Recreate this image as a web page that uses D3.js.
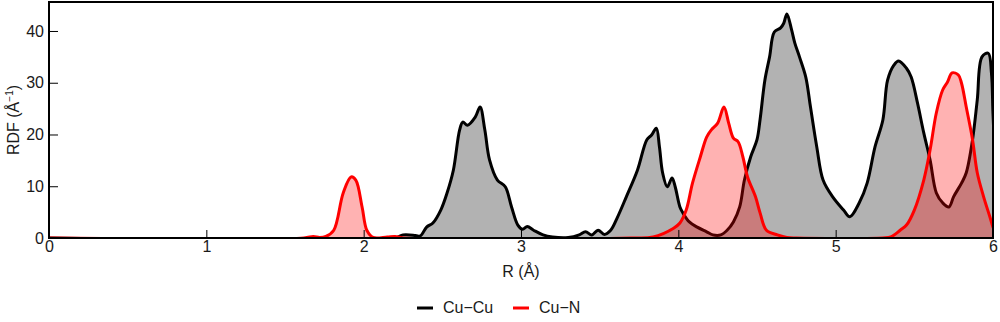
<!DOCTYPE html>
<html>
<head>
<meta charset="utf-8">
<script src="https://cdn.jsdelivr.net/npm/d3@7"></script>
<style>
  html, body { margin: 0; padding: 0; background: #fff; }
  svg { display: block; font-family: "Liberation Sans", Arial, sans-serif; }
</style>
</head>
<body>
<svg id="chart" width="1000" height="322"></svg>
<script>
const xTicks = [0, 1, 2, 3, 4, 5, 6];
const yTicks = [0, 10, 20, 30, 40];
const seriesNames = ["Cu\u2212Cu", "Cu\u2212N"];

const cuCuR = [0, 2.2, 2.25, 2.33, 2.36, 2.40, 2.44, 2.49, 2.53, 2.57, 2.61, 2.63, 2.66, 2.71, 2.74, 2.77, 2.80, 2.85, 2.90, 2.94, 2.98, 3.01, 3.04, 3.08, 3.14, 3.20, 3.30, 3.37, 3.41, 3.45, 3.49, 3.53, 3.57, 3.61, 3.67, 3.74, 3.80, 3.83, 3.86, 3.88, 3.90, 3.93, 3.96, 3.98, 4.01, 4.03, 4.07, 4.12, 4.18, 4.22, 4.27, 4.31, 4.35, 4.39, 4.42, 4.46, 4.50, 4.52, 4.55, 4.58, 4.61, 4.65, 4.67, 4.69, 4.72, 4.74, 4.77, 4.81, 4.84, 4.88, 4.92, 4.98, 5.05, 5.09, 5.15, 5.20, 5.25, 5.30, 5.33, 5.37, 5.40, 5.45, 5.48, 5.52, 5.56, 5.60, 5.64, 5.68, 5.72, 5.75, 5.80, 5.83, 5.87, 5.90, 5.93, 5.97, 5.99, 6.0, 6.02];
const cuCuG = [0, 0, 0.6, 0.5, 0.4, 2.1, 2.9, 5.4, 8.7, 13.1, 20.9, 22.4, 21.8, 23.4, 25.3, 20.9, 15.1, 11.2, 9.9, 6.0, 2.5, 1.7, 2.2, 1.5, 0.6, 0.2, 0.1, 0.6, 1.2, 0.6, 1.5, 0.7, 1.5, 3.8, 8.0, 13.1, 19.0, 19.9, 21.2, 17.6, 12.6, 9.9, 11.6, 9.9, 6.0, 4.8, 3.1, 2.1, 1.2, 0.6, 0.6, 1.5, 3.1, 6.0, 11.2, 15.7, 19.0, 23.0, 30.5, 35.0, 39.8, 40.6, 41.5, 43.3, 40.2, 37.7, 35.0, 31.1, 25.3, 17.6, 11.2, 8.0, 5.4, 4.1, 6.8, 10.6, 17.6, 22.8, 30.5, 33.4, 34.2, 32.8, 31.1, 26.1, 20.3, 15.1, 8.7, 6.8, 6.0, 8.0, 10.6, 12.6, 19.0, 26.7, 35.0, 35.7, 31.9, 24.0, 10.0];

const cuNR = [0, 1.62, 1.68, 1.72, 1.76, 1.81, 1.87, 1.92, 1.95, 1.99, 2.02, 2.06, 2.15, 2.20, 2.25, 3.70, 3.84, 3.97, 4.01, 4.05, 4.09, 4.14, 4.18, 4.21, 4.25, 4.29, 4.32, 4.35, 4.38, 4.41, 4.44, 4.49, 4.52, 4.56, 4.63, 4.69, 4.75, 5.30, 5.35, 5.41, 5.45, 5.50, 5.56, 5.60, 5.64, 5.68, 5.71, 5.74, 5.78, 5.80, 5.83, 5.87, 5.90, 5.94, 5.98, 6.0, 6.02];
const cuNG = [0, 0, 0.3, 0.1, 0.3, 1.5, 8.7, 11.8, 11.2, 6.0, 1.5, 0.1, 0.2, 0.3, 0, 0, 0.2, 1.9, 2.9, 5.4, 10.6, 15.7, 19.5, 20.9, 22.2, 25.3, 22.2, 19.3, 18.6, 15.7, 11.8, 8.0, 4.8, 1.5, 0.6, 0.1, 0, 0, 0.2, 1.5, 2.5, 5.4, 11.2, 17.0, 24.2, 28.6, 30.1, 31.9, 31.5, 29.9, 25.3, 19.0, 12.6, 8.0, 4.1, 2.1, 1.0];

const W = 1000, H = 322;
const m = { left: 49, right: 7, top: 2, bottom: 84 };
const svg = d3.select("#chart");

const x = d3.scaleLinear().domain([0, 6]).range([m.left, W - m.right]);
const y = d3.scaleLinear().domain([0, 45.6]).range([H - m.bottom, m.top]);

svg.append("defs").append("clipPath").attr("id", "clip")
  .append("rect").attr("x", m.left).attr("y", m.top)
  .attr("width", W - m.left - m.right).attr("height", H - m.top - m.bottom);

const plot = svg.append("g").attr("clip-path", "url(#clip)");

function drawSeries(R, G, color) {
  const pts = R.map((r, i) => [r, G[i]]);
  const curve = d3.curveCatmullRom.alpha(0.5);
  const area = d3.area().x(d => x(d[0])).y0(y(0)).y1(d => y(d[1])).curve(curve);
  const line = d3.line().x(d => x(d[0])).y(d => y(d[1])).curve(curve);
  plot.append("path").datum(pts).attr("d", area)
    .attr("fill", color).attr("fill-opacity", 0.3).attr("stroke", "none");
  plot.append("path").datum(pts).attr("d", line)
    .attr("fill", "none").attr("stroke", color).attr("stroke-width", 3)
    .attr("stroke-linejoin", "round");
}
drawSeries(cuCuR, cuCuG, "#000000");
drawSeries(cuNR, cuNG, "#ff0000");

// axes (ticks inward)
const xAxis = svg.append("g").attr("transform", `translate(0,${H - m.bottom})`)
  .call(d3.axisBottom(x).tickValues(xTicks).tickSize(-8).tickPadding(3).tickFormat(d3.format("d")));
const yAxis = svg.append("g").attr("transform", `translate(${m.left},0)`)
  .call(d3.axisLeft(y).tickValues(yTicks).tickSize(-9).tickPadding(5).tickFormat(d3.format("d")));
[xAxis, yAxis].forEach(a => {
  a.select(".domain").remove();
  a.selectAll(".tick line").attr("stroke", "#000").attr("stroke-width", 1);
  a.selectAll(".tick text").attr("fill", "#1a1a1a").attr("font-size", 16)
    .attr("font-family", "Liberation Sans, Arial, sans-serif");
});

// frame
svg.append("rect").attr("x", m.left).attr("y", m.top)
  .attr("width", W - m.left - m.right).attr("height", H - m.top - m.bottom)
  .attr("fill", "none").attr("stroke", "#000").attr("stroke-width", 2);

// axis titles
svg.append("text").attr("x", (m.left + W - m.right) / 2).attr("y", 277)
  .attr("text-anchor", "middle").attr("font-size", 16).attr("fill", "#1a1a1a")
  .text("R (\u00C5)");

const yt = svg.append("text").attr("transform", `translate(19,${(m.top + H - m.bottom) / 2}) rotate(-90)`)
  .attr("text-anchor", "middle").attr("font-size", 16).attr("fill", "#1a1a1a");
yt.append("tspan").text("RDF (\u00C5");
yt.append("tspan").attr("dy", -6).attr("font-size", 10).text("\u22121");
yt.append("tspan").attr("dy", 6).text(")");

// legend
const legendColors = ["#000000", "#ff0000"];
const legendX = [417, 513];
seriesNames.forEach((name, i) => {
  const g = svg.append("g");
  g.append("line").attr("x1", legendX[i]).attr("x2", legendX[i] + 16)
    .attr("y1", 308).attr("y2", 308).attr("stroke", legendColors[i]).attr("stroke-width", 3);
  g.append("text").attr("x", legendX[i] + 26).attr("y", 313).attr("font-size", 16)
    .attr("fill", "#1a1a1a").text(name);
});
</script>
</body>
</html>
